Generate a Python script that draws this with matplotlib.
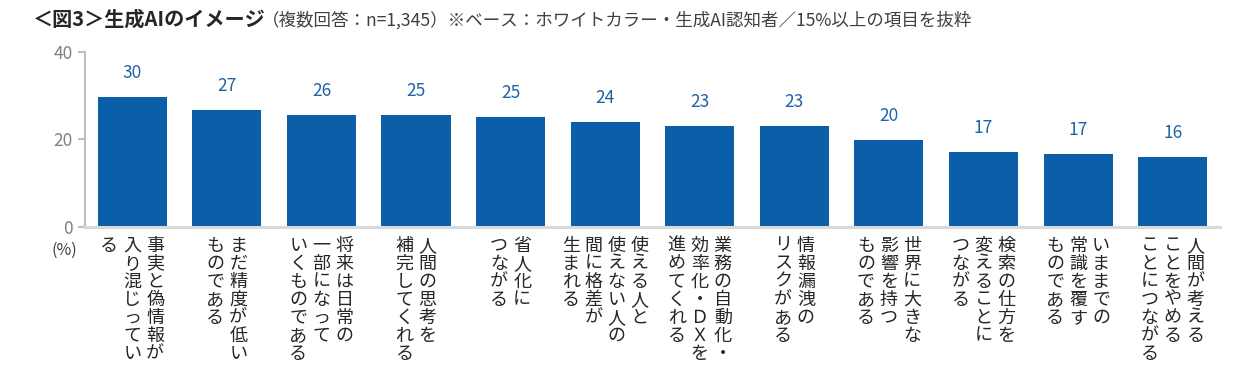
import matplotlib
matplotlib.use("Agg")
import matplotlib.pyplot as plt

plt.rcParams['font.family'] = ['Noto Sans CJK JP', 'DejaVu Sans']

# データ（読み取り値, %）
categories = [
    "事実と偽情報が\n入り混じってい\nる",
    "まだ精度が低い\nものである",
    "将来は日常の\n一部になって\nいくものである",
    "人間の思考を\n補完してくれる",
    "省人化に\nつながる",
    "使える人と\n使えない人の\n間に格差が\n生まれる",
    "業務の自動化・\n効率化・ＤＸを\n進めてくれる",
    "情報漏洩の\nリスクがある",
    "世界に大きな\n影響を持つ\nものである",
    "検索の仕方を\n変えることに\nつながる",
    "いままでの\n常識を覆す\nものである",
    "人間が考える\nことをやめる\nことにつながる",
]
values = [29.6, 26.6, 25.6, 25.4, 25.1, 23.8, 23.1, 22.9, 19.9, 17.1, 16.6, 16.0]
yticks = [0, 20, 40]

bar_color = '#0B5FA9'
label_color = '#1F62AA'
grey = '#808080'

fig = plt.figure(figsize=(12.59, 3.71), dpi=100)
ax = fig.add_axes([0.0675, 0.389, 0.9015, 0.472])

x = list(range(len(values)))
ax.bar(x, values, width=0.73, color=bar_color, zorder=2)
ax.set_xlim(-0.5, len(values) - 0.5)
ax.set_ylim(0, 40)
ax.set_yticks(yticks)
ax.set_xticks([])
ax.tick_params(axis='y', colors='#bfbfbf', labelcolor=grey, labelsize=12.5,
               length=5, width=1.5, pad=4)

for s in ['top', 'right']:
    ax.spines[s].set_visible(False)
ax.spines['left'].set_color('#bfbfbf')
ax.spines['left'].set_linewidth(1.5)
ax.spines['bottom'].set_color('#d9d9d9')
ax.spines['bottom'].set_linewidth(2.2)

# 値ラベル
for i, v in enumerate(values):
    ax.annotate(f"{v:.0f}", xy=(i, v), xytext=(0, 24), textcoords='offset pixels',
                ha='center', va='center', fontsize=12.5, color=label_color)

# 縦書きのカテゴリラベル（右の列から左へ）
col_pitch = 23
char_pitch = 18
for i, lab in enumerate(categories):
    cols = lab.split("\n")
    n = len(cols)
    for c, col in enumerate(cols):
        dx = (n - 1) / 2 * col_pitch - c * col_pitch
        for k, ch in enumerate(col):
            dy = -19 - k * char_pitch
            ax.annotate(ch, xy=(i, 0), xycoords=('data', 'data'),
                        xytext=(dx, dy), textcoords='offset pixels',
                        ha='center', va='center', fontsize=13, color='#262626',
                        annotation_clip=False)

ax.annotate("(%)", xy=(0, 0), xycoords='axes fraction', xytext=(-21, -24),
            textcoords='offset pixels', ha='center', va='center',
            fontsize=11.5, color='#404040', annotation_clip=False)

# タイトル
fig.text(33 / 1259, 1 - 19 / 371, "＜図3＞生成AIのイメージ", fontsize=14.5,
         fontweight='bold', color='#262626', ha='left', va='center')
fig.text(262 / 1259, 1 - 20 / 371,
         "（複数回答：n=1,345）※ベース：ホワイトカラー・生成AI認知者／15%以上の項目を抜粋",
         fontsize=12.6, color='#404040', ha='left', va='center')

fig.savefig("out.png", dpi=100)
